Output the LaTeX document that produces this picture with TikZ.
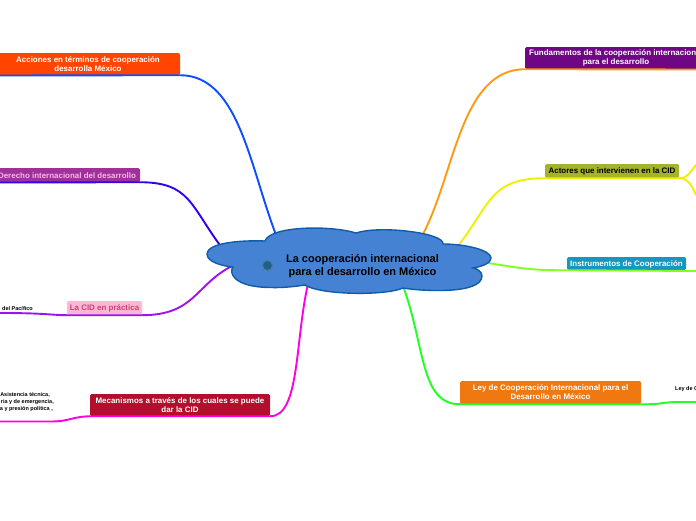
\documentclass[tikz,border=0pt]{standalone}
\usepackage{fontspec}
\setmainfont{Liberation Sans}
\usepackage{xcolor}
\usetikzlibrary{arrows.meta,positioning,calc}
\definecolor{cloudfill}{HTML}{4682D4}
\definecolor{cloudline}{HTML}{0F5CA8}
\definecolor{accionesbox}{HTML}{FF4500}
\definecolor{derechobox}{HTML}{A0309A}
\definecolor{derechotext}{HTML}{F4BCE6}
\definecolor{practicabox}{HTML}{FFB6D2}
\definecolor{practicatext}{HTML}{C8427A}
\definecolor{mecanismosbox}{HTML}{B30F2C}
\definecolor{fundamentosbox}{HTML}{6F0683}
\definecolor{actoresbox}{HTML}{A4B32A}
\definecolor{instrumentosbox}{HTML}{1597BF}
\definecolor{leybox}{HTML}{F07810}
\definecolor{accioneslink}{HTML}{0B4DFF}
\definecolor{derecholink}{HTML}{3300EE}
\definecolor{practicalink}{HTML}{A010F0}
\definecolor{mecanismoslink}{HTML}{FF00E0}
\definecolor{fundamentoslink}{HTML}{FF9A10}
\definecolor{actoreslink}{HTML}{F0F000}
\definecolor{instrumentoslink}{HTML}{80FF20}
\definecolor{leylink}{HTML}{22FF22}
\definecolor{markerfill}{HTML}{1F5F8C}
\definecolor{markerline}{HTML}{4A7A9E}
\tikzset{
    topic/.style={rounded corners=1.5pt, inner sep=0pt, align=center, font=\fontsize{7.95}{9.2}\selectfont\bfseries,
        execute at begin node={\rule{0pt}{7.4pt}}},
    topictwo/.style={topic, execute at begin node={\rule{0pt}{12.5pt}}},
    leaf/.style={inner sep=0pt, font=\fontsize{5.5}{7}\selectfont\bfseries},
    link/.style={line width=1.9pt, line cap=round},
}
\begin{document}
\begin{tikzpicture}[x=1pt, y=-1pt]
    \useasboundingbox (0,0) rectangle (696,520);
    \clip (0,0) rectangle (696,520);

    % topics
    \node[topictwo, fill=accionesbox, text=white, minimum width=190pt, minimum height=22pt] (acciones) at (85,64)
        {\hspace*{6pt}Acciones en términos de cooperación\\\hspace*{6pt}desarrolla México};
    \node[topic, fill=derechobox, text=derechotext, minimum width=150pt, minimum height=14pt] (derecho) at (65,175)
        {\hspace*{4pt}Derecho internacional del desarrollo};
    \node[topic, fill=practicabox, text=practicatext, minimum width=75pt, minimum height=14pt] (practica) at (104.5,308)
        {La CID en práctica};
    \node[topictwo, fill=mecanismosbox, text=white, minimum width=180pt, minimum height=22pt] (mecanismos) at (180,405)
        {Mecanismos a través de los cuales se puede\\dar la CID};
    \node[topictwo, fill=fundamentosbox, text=white, minimum width=182pt, minimum height=22pt] (fundamentos) at (616,58)
        {Fundamentos de la cooperación internacional\\para el desarrollo};
    \node[topic, fill=actoresbox, text=black, minimum width=134pt, minimum height=14pt] (actores) at (612,171)
        {Actores que intervienen en la CID};
    \node[topic, fill=instrumentosbox, text=white, minimum width=119pt, minimum height=13pt] (instrumentos) at (626.5,263.5)
        {Instrumentos de Cooperación};
    \node[topictwo, fill=leybox, text=white, minimum width=181pt, minimum height=23pt] (ley) at (550.5,392.5)
        {Ley de Cooperación Internacional para el\\Desarrollo en México};

    % leaves, cut by the page edge
    \node[leaf, anchor=east] (pacifico) at (33,308.5) {del Pacífico};
    \node[leaf, anchor=east, align=right] (asistencia) at (54,402.5)
        {Asistencia técnica,\hspace*{4pt}\\ria y de emergencia,\\a y presión política ,\hspace*{1pt}};
    \node[leaf, anchor=west] (leydetail) at (675,389.5) {Ley de C};

    % free ends
    \coordinate (rootA) at (278,240);
    \coordinate (rootB) at (222,248);
    \coordinate (rootC) at (232,266);
    \coordinate (rootD) at (308,284);
    \coordinate (rootE) at (422,236);
    \coordinate (rootF) at (458,246);
    \coordinate (rootG) at (488,263);
    \coordinate (rootH) at (403,286);
    \coordinate (edgeA) at (0,75.5);
    \coordinate (edgeB) at (0,182.5);
    \coordinate (edgeC) at (0,313);
    \coordinate (edgeD) at (0,421.5);
    \coordinate (edgeE) at (696,69.5);
    \coordinate (edgeF) at (696,165);
    \coordinate (edgeG) at (696,195);
    \coordinate (edgeH) at (696,271);
    \coordinate (edgeI) at (696,402);

    % connectors
    \draw[link, accioneslink] (rootA) .. controls (250,170) and (240,75.5) .. (acciones.south east) -- (edgeA);
    \draw[link, derecholink] (rootB) .. controls (190,205) and (190,182.5) .. (derecho.south east) -- (edgeB);
    \draw[link, practicalink] (rootC) .. controls (195,285) and (195,315) .. (practica.south east) -- (practica.south west)
        .. controls (50,315) and (45,313) .. (edgeC);
    \draw[link, mecanismoslink] (rootD) .. controls (295,340) and (300,416.5) .. (mecanismos.south east) -- (mecanismos.south west)
        .. controls (70,417) and (70,421.5) .. (50,421.5) -- (edgeD);
    \draw[link, fundamentoslink] (rootE) .. controls (455,175) and (460,69.5) .. (fundamentos.south west) -- (edgeE);
    \draw[link, actoreslink] (rootF) .. controls (490,205) and (490,178) .. (actores.south west) -- (actores.south east)
        .. controls (688,178) and (690,172) .. (edgeF);
    \draw[link, actoreslink] (actores.south east) .. controls (688,178) and (692,186) .. (edgeG);
    \draw[link, instrumentoslink] (rootG) .. controls (520,268) and (530,270.5) .. (instrumentos.south west) -- (edgeH);
    \draw[link, leylink] (rootH) .. controls (425,345) and (420,404.5) .. (ley.south west) -- (ley.south east)
        .. controls (665,404.5) and (660,402) .. (680,402) -- (edgeI);

    % central cloud
    \draw[line width=1.4pt, draw=cloudline, fill=cloudfill]
        (265,241) .. controls (240,240) and (207,243) .. (207,254)
        .. controls (207,262) and (222,266) .. (233,267)
        .. controls (229,272) and (232,287) .. (270,287.5)
        .. controls (285,288) and (298,286) .. (305,285)
        .. controls (320,295) and (385,296) .. (403,288)
        .. controls (420,291) and (482,295) .. (482,276)
        .. controls (482,272) and (478,269) .. (473,268)
        .. controls (485,266) and (491,262) .. (491,258)
        .. controls (491,250) and (465,244) .. (443,244)
        .. controls (445,233) and (380,225) .. (356,233)
        .. controls (330,225) and (270,226) .. (265,241) -- cycle;

    \node[circle, minimum size=10pt, inner sep=0pt, draw=markerline, line width=1pt, fill=markerfill] (marker) at (267.5,265.5) {};
    \node[align=center, inner sep=0pt, font=\fontsize{11}{13.2}\selectfont\bfseries] (root) at (362.5,266)
        {La cooperación internacional\\para el desarrollo en México};
\end{tikzpicture}
\end{document}
